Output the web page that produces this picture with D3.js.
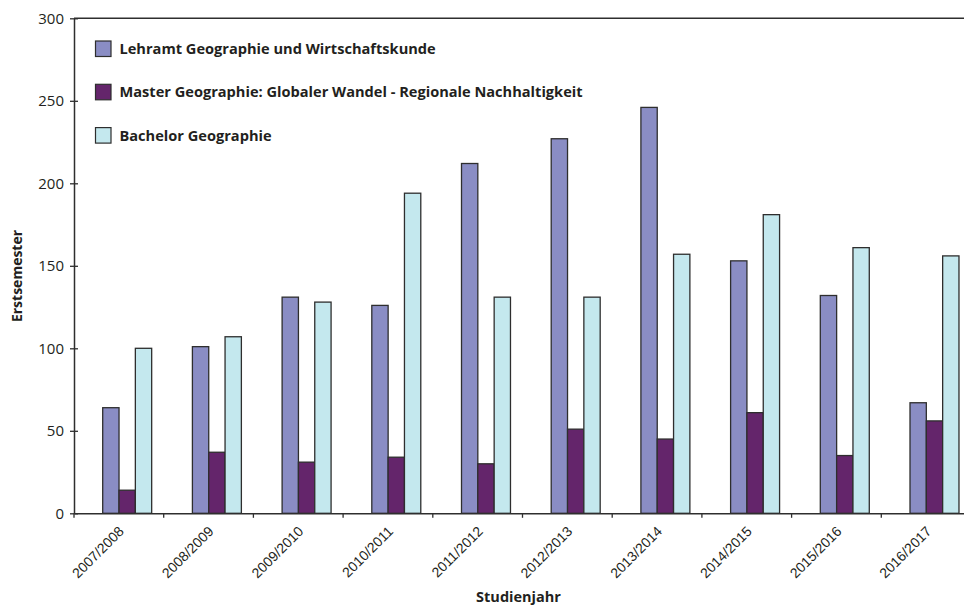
<!DOCTYPE html>
<html>
<head>
<meta charset="utf-8">
<script src="https://cdn.jsdelivr.net/npm/d3@7"></script>
<style>
  html, body { margin: 0; padding: 0; background: #fff; }
  svg { display: block; }
</style>
</head>
<body>
<svg id="chart" width="964" height="606"></svg>
<script>
const categories = ["2007/2008","2008/2009","2009/2010","2010/2011","2011/2012","2012/2013","2013/2014","2014/2015","2015/2016","2016/2017"];
const seriesNames = [
  "Lehramt Geographie und Wirtschaftskunde",
  "Master Geographie: Globaler Wandel - Regionale Nachhaltigkeit",
  "Bachelor Geographie"
];
const lehramt  = [64, 101, 131, 126, 212, 227, 246, 153, 132, 67];
const master   = [14, 37, 31, 34, 30, 51, 45, 61, 35, 56];
const bachelor = [100, 107, 128, 194, 131, 131, 157, 181, 161, 156];
const yTicks = [0, 50, 100, 150, 200, 250, 300];
const colors = ["#8a8dc4", "#64256b", "#c4e8ee"];

const seriesValues = [lehramt, master, bachelor];

const svg = d3.select("#chart");
const pLeft = 74, pTop = 18.3, pBottom = 513.3, pRight = 971;
const textColor = "#231f20";
const axisColor = "#2e2e2e";

const x = d3.scaleBand().domain(categories).range([pLeft, pRight]).paddingInner(0).paddingOuter(0);
const y = d3.scaleLinear().domain([0, 300]).range([pBottom, pTop]);
const bw = x.bandwidth();
const xs = d3.scaleBand().domain(d3.range(seriesNames.length))
  .range([bw * 0.32, bw * 0.32 + bw * 0.182 * 3]).padding(0);

// top frame line
svg.append("line")
  .attr("x1", pLeft).attr("x2", 964)
  .attr("y1", y(300)).attr("y2", y(300))
  .attr("stroke", axisColor).attr("stroke-width", 1.5);

// bars
seriesValues.forEach((vals, si) => {
  svg.append("g").selectAll("rect")
    .data(categories.map((c, i) => ({ c, v: vals[i] })))
    .join("rect")
    .attr("x", d => x(d.c) + xs(si))
    .attr("width", xs.bandwidth())
    .attr("y", d => y(d.v))
    .attr("height", d => y(0) - y(d.v))
    .attr("fill", colors[si])
    .attr("stroke", axisColor)
    .attr("stroke-width", 1.3);
});

// y axis
const yAxis = d3.axisLeft(y).tickValues(yTicks).tickSize(0).tickPadding(10);
const gy = svg.append("g").attr("transform", `translate(${pLeft},0)`).call(yAxis);
gy.select(".domain").attr("stroke", axisColor).attr("stroke-width", 1.5);
gy.selectAll(".tick line").remove();
gy.selectAll(".tick").append("line")
  .attr("x1", -4).attr("x2", 4).attr("stroke", axisColor).attr("stroke-width", 1.3);
gy.selectAll(".tick text")
  .attr("font-family", "'Open Sans', sans-serif")
  .attr("font-size", 15)
  .attr("fill", textColor);

// x axis
const xAxis = d3.axisBottom(x).tickSize(0).tickFormat("");
const gx = svg.append("g").attr("transform", `translate(0,${pBottom})`).call(xAxis);
gx.select(".domain").attr("stroke", axisColor).attr("stroke-width", 1.5);
gx.selectAll(".tick").remove();
gx.selectAll(".bticks").data(categories).join("line")
  .attr("x1", d => x(d)).attr("x2", d => x(d))
  .attr("y1", 0).attr("y2", 4.5)
  .attr("stroke", axisColor).attr("stroke-width", 1.3);
gx.selectAll(".xlab").data(categories).join("text")
  .attr("transform", d => `translate(${x(d) + bw / 2 + 6},${19}) rotate(-45)`)
  .attr("text-anchor", "end")
  .attr("font-family", "'Liberation Sans', Arial, sans-serif")
  .attr("font-size", 14)
  .attr("fill", textColor)
  .text(d => d);

// axis titles
svg.append("text")
  .attr("x", 518.5).attr("y", 602)
  .attr("text-anchor", "middle")
  .attr("font-family", "'Open Sans', sans-serif")
  .attr("font-weight", "bold")
  .attr("font-size", 14.5)
  .attr("fill", textColor)
  .text("Studienjahr");

svg.append("text")
  .attr("transform", "translate(21.5,276) rotate(-90)")
  .attr("text-anchor", "middle")
  .attr("font-family", "'Open Sans', sans-serif")
  .attr("font-weight", "bold")
  .attr("font-size", 14)
  .attr("fill", textColor)
  .text("Erstsemester");

// legend
const lg = svg.append("g");
seriesNames.forEach((name, i) => {
  const by = 54 + i * 43.3;
  lg.append("rect")
    .attr("x", 95.5).attr("y", by - 13)
    .attr("width", 15.5).attr("height", 15.5)
    .attr("fill", colors[i])
    .attr("stroke", axisColor).attr("stroke-width", 1.2);
  lg.append("text")
    .attr("x", 119.5).attr("y", by)
    .attr("font-family", "'Open Sans', sans-serif")
    .attr("font-weight", "bold")
    .attr("font-size", 14.6)
    .attr("fill", textColor)
    .text(name);
});
</script>
</body>
</html>
